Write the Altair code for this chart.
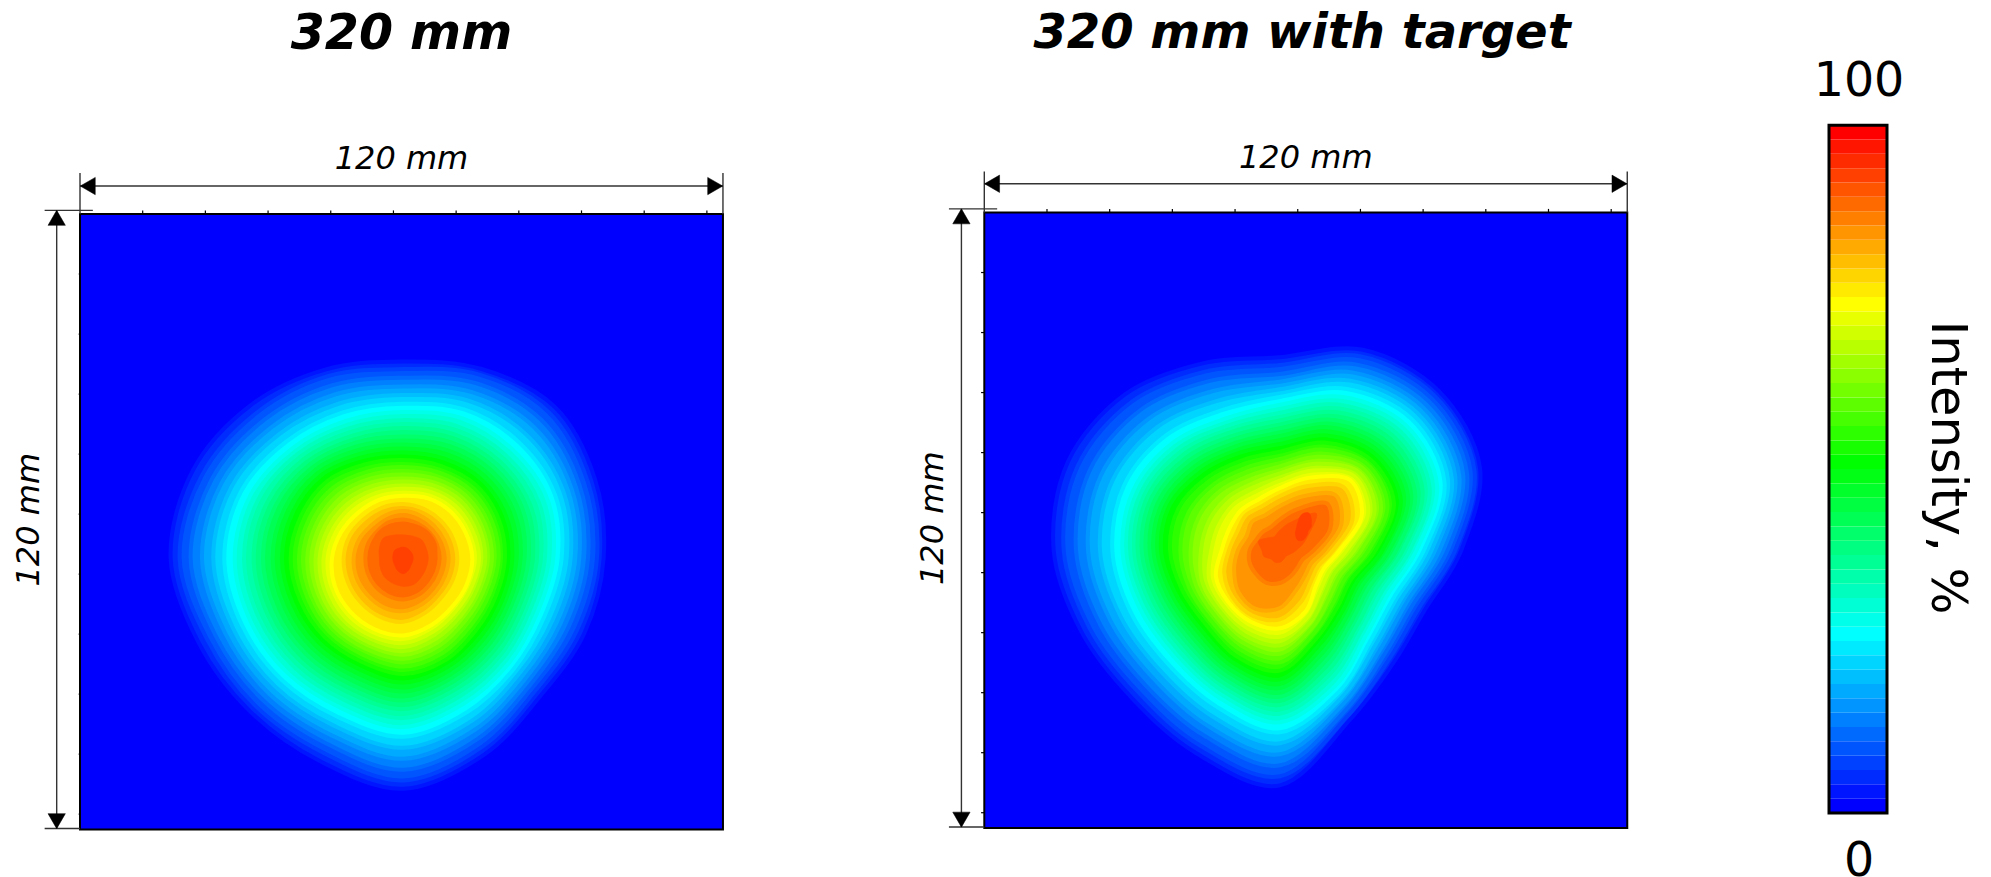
import math
import altair as alt
import pandas as pd

FONT = "DejaVu Sans"
PX_X, PX_Y = 5.358, 5.13          # picture pixels per mm
RX, RY = 3 * PX_X, 3 * PX_Y       # radii below were read on a 3x crop

# ---- "320 mm": contour rings, 16 radii read clockwise from East ----
A01 = [601,588,583,637,692,658,650,664,698,684,648,612,590,614,642,622]
A03 = [581,564,561,614,667,631,627,637,671,653,619,591,567,596,618,599]
A05 = [554,537,538,586,635,602,599,609,638,621,588,561,541,568,586,572]
A07 = [528,511,515,558,602,573,572,580,604,590,557,532,515,539,555,546]
A09 = [502,485,491,530,569,544,544,552,570,558,526,502,489,511,523,520]
A11 = [475,458,469,500,536,515,516,524,537,526,495,473,463,482,491,493]
A13 = [450,434,447,473,507,487,489,496,506,496,468,446,438,455,462,467]
A15 = [425,411,424,448,480,461,463,469,478,469,445,422,414,428,436,440]
A17 = [401,389,401,423,453,435,437,441,449,441,421,398,390,402,410,413]
A19 = [376,366,377,399,427,410,410,414,421,414,397,375,365,376,385,387]
A21 = [352,344,354,376,400,384,384,386,392,386,374,351,341,350,359,360]
A23 = [327,322,330,352,373,358,358,359,364,359,350,327,317,323,333,333]
A25 = [305,300,307,331,348,335,334,334,338,332,325,304,294,299,309,309]
A27 = [286,280,286,308,325,314,313,311,313,306,298,281,273,278,287,288]
A29 = [266,260,264,284,302,294,292,289,288,280,272,258,251,257,265,266]
A31 = [246,240,244,260,279,273,271,267,263,254,245,235,230,236,243,245]
A33 = [227,222,224,238,255,252,249,244,239,228,219,212,208,215,221,223]
A35 = [207,206,207,218,232,230,226,222,214,202,192,189,187,194,199,202]
A37 = [162,162,164,176,191,189,184,181,179,174,166,164,162,160,159,160]
A39 = [136,136,140,149,159,159,154,152,149,144,137,139,141,137,134,134]
A41 = [109,109,112,119,124,122,119,116,114,114,112,116,116,112,110,109]
A42 = [100,100,103,108,110,108,104,100,100,105,110,110,105,108,110,108]
A43 = [75,75,78,85,85,82,80,75,72,78,85,75,70,72,78,75]
A44 = [30,30,32,40,47,42,35,32,32,33,35,33,33,32,30,30]
RINGS_A = {1:A01,3:A03,5:A05,7:A07,9:A09,11:A11,13:A13,15:A15,17:A17,19:A19,21:A21,23:A23,
           25:A25,27:A27,29:A29,31:A31,33:A33,35:A35,37:A37,39:A39,41:A41,42:A42,43:A43,44:A44}
CENTRES_A = {"default": (60.34, 67.08)}

# ---- "320 mm with target" ----
B01 = [544,470,480,550,706,659,628,644,679,689,659,606,578,650,674,649]
B03 = [526,452,463,536,679,633,602,617,649,657,629,580,555,629,655,631]
B05 = [503,431,443,518,646,601,572,584,612,619,593,549,528,602,631,607]
B07 = [479,411,424,499,613,570,541,551,576,582,557,517,505,576,606,582]
B09 = [455,391,404,480,580,538,510,518,540,544,521,485,482,550,582,558]
B11 = [432,370,384,461,547,506,479,485,503,506,485,454,459,523,557,534]
B13 = [410,350,364,439,517,479,452,456,473,475,455,427,436,497,532,510]
B15 = [390,330,344,413,491,456,429,433,450,451,431,405,412,472,507,486]
B17 = [369,310,324,387,465,434,406,410,427,428,407,383,389,447,482,463]
B19 = [349,290,303,360,440,411,383,386,403,404,382,360,365,422,456,439]
B21 = [328,270,283,334,414,389,360,363,380,380,358,338,342,398,431,416]
B23 = [308,250,263,308,388,366,337,340,357,357,334,316,318,372,406,392]
B25 = [287,231,243,286,362,344,315,317,330,329,308,292,295,349,384,370]
B27 = [266,214,225,269,337,321,296,295,299,296,280,267,273,326,367,349]
B29 = [244,196,207,252,311,299,277,273,268,263,252,241,251,303,349,328]
B31 = [223,178,189,235,286,277,258,252,237,230,223,216,230,280,332,307]
B33 = [201,161,171,217,260,254,239,230,206,198,195,190,208,258,314,286]
B35 = [180,143,152,200,235,232,220,208,175,165,167,165,186,235,297,265]
B37 = [160,125,132,167,208,214,201,181,153,140,146,142,162,207,268,235]
B39 = [134,102,107,129,174,191,177,149,126,109,119,114,132,174,234,199]
B41 = [102,74,75,85,99,107,102,99,91,78,75,74,92,132,198,163]
B42 = [90,65,64,68,65,68,68,78,78,68,58,58,76,115,185,150]
B43 = [50,33,26,30,37,40,38,52,55,70,52,44,60,92,155,85]
B44 = [24,20,20,28,40,44,34,24,20,20,22,30,40,44,34,26]
RINGS_B = {1:B01,3:B03,5:B05,7:B07,9:B09,11:B11,13:B13,15:B15,17:B17,19:B19,21:B21,23:B23,
           25:B25,27:B27,29:B29,31:B31,33:B33,35:B35,37:B37,39:B39,41:B41,42:B42,43:B43,44:B44}
CENTRES_B = {"default": (55.19, 65.79), 44: (59.55, 61.24)}

TICK_MM = [11.7, 23.4, 35.1, 46.8, 58.5, 70.2, 81.9, 93.6, 105.3, 117.0]
BANDS = list(range(48))
COLOR_STOPS = [0, 12, 24, 35, 47]
COLOR_HEX = ["#0000ff", "#00ffff", "#00ff00", "#ffff00", "#ff0000"]
cs = alt.Scale(domain=COLOR_STOPS, range=COLOR_HEX, interpolate="rgb")

VIEW_H = 869


def rings_frame(rings, centres):
    rows = []
    for lev, radii in rings.items():
        cx, cy = centres.get(lev, centres["default"])
        for i, r in enumerate(radii):
            a = 2 * math.pi * i / len(radii)
            rows.append({"level": lev, "fill_level": lev + 1 if lev <= 41 else lev, "i": i,
                         "x": cx + r / RX * math.cos(a), "y": cy + r / RY * math.sin(a)})
    return pd.DataFrame(rows)


def panel(title, rings, centres, view_w, left_px, top_px, arrow_y, arrow_x, tick_len, label_y, title_x, title_y, title_size):
    xs = alt.Scale(domain=[-left_px / PX_X, (view_w - left_px) / PX_X], nice=False, zero=False)
    ys = alt.Scale(domain=[(VIEW_H - top_px) / PX_Y, -top_px / PX_Y], nice=False, zero=False)
    X = lambda f="x": alt.X(f"{f}:Q", scale=xs, axis=None)
    Y = lambda f="y": alt.Y(f"{f}:Q", scale=ys, axis=None)
    box = pd.DataFrame({"x": [0], "x2": [120], "y": [0], "y2": [120], "level": [0]})
    bg = alt.Chart(box).mark_rect().encode(x=X(), x2="x2:Q", y=Y(), y2="y2:Q",
                                           fill=alt.Fill("level:Q", scale=cs, legend=None))
    frame_all = rings_frame(rings, centres)

    def ring_layer(df, width):
        return alt.Chart(df).mark_line(
            interpolate="cardinal-closed", tension=0, strokeWidth=width
        ).encode(x=X(), y=Y(), detail="level:Q", order=alt.Order("i:Q"),
                 fill=alt.Fill("fill_level:Q", scale=cs, legend=None),
                 stroke=alt.Stroke("level:Q", scale=cs, legend=None))

    outer = ring_layer(frame_all[frame_all.level <= 41], 4)
    inner = ring_layer(frame_all[frame_all.level > 41], 0.5)
    frame = alt.Chart(box).mark_rect(filled=False, stroke="black", strokeWidth=2).encode(
        x=X(), x2="x2:Q", y=Y(), y2="y2:Q")
    ticks = pd.DataFrame(
        [{"x": t, "x2": t, "y": -0.7, "y2": 0} for t in TICK_MM]
        + [{"x": -tick_len, "x2": 0, "y": t, "y2": t} for t in TICK_MM])
    tk = alt.Chart(ticks).mark_rule(color="black", strokeWidth=1.2).encode(
        x=X(), x2="x2:Q", y=Y(), y2="y2:Q")
    dims = pd.DataFrame([
        {"x": 0, "x2": 120, "y": arrow_y, "y2": arrow_y},
        {"x": 0, "x2": 0, "y": -8, "y2": 0},
        {"x": 120, "x2": 120, "y": -8, "y2": 0},
        {"x": arrow_x, "x2": arrow_x, "y": -0.7, "y2": 119.8},
        {"x": -6.6, "x2": 2.4, "y": -0.7, "y2": -0.7},
        {"x": -6.6, "x2": 0, "y": 119.8, "y2": 119.8},
    ])
    dm = alt.Chart(dims).mark_rule(color="#333333", strokeWidth=1.4).encode(
        x=X(), x2="x2:Q", y=Y(), y2="y2:Q")
    heads = []
    for shape, hx, hy in [("triangle-left", 1.45, arrow_y), ("triangle-right", 118.55, arrow_y),
                          ("triangle-up", arrow_x, 0.75), ("triangle-down", arrow_x, 118.35)]:
        heads.append(alt.Chart(pd.DataFrame({"x": [hx], "y": [hy]})).mark_point(
            shape=shape, filled=True, fill="black", stroke="black", strokeWidth=0.5, size=300, opacity=1
        ).encode(x=X(), y=Y()))
    t_main = alt.Chart(pd.DataFrame({"x": [title_x], "y": [title_y], "t": [title]})).mark_text(
        font=FONT, fontSize=title_size, fontStyle="italic", fontWeight="bold", color="black",
        align="center", baseline="middle"
    ).encode(x=X(), y=Y(), text="t:N")
    t_h = alt.Chart(pd.DataFrame({"x": [60], "y": [label_y], "t": ["120 mm"]})).mark_text(
        font=FONT, fontSize=32, fontStyle="italic", color="black", align="center", baseline="middle"
    ).encode(x=X(), y=Y(), text="t:N")
    t_v = alt.Chart(pd.DataFrame({"x": [-9.5], "y": [59.6], "t": ["120 mm"]})).mark_text(
        font=FONT, fontSize=32, fontStyle="italic", color="black", align="center", baseline="middle", angle=270
    ).encode(x=X(), y=Y(), text="t:N")
    return alt.layer(bg, outer, inner, tk, frame, dm, *heads, t_main, t_h, t_v).properties(width=view_w, height=VIEW_H)


left = panel("320 mm", RINGS_A, CENTRES_A, 880, 72, 206, -5.45, -4.35, 0.25, -10.75, 60, -35.1, 49)
mid = panel("320 mm with target", RINGS_B, CENTRES_B, 880, 96.3, 204.5, -5.6, -4.27, 0.6, -10.7, 59.3, -34.85, 48)

# colour bar
BAR_PX = 58
BAND_PX = 14.33
bar_xs = alt.Scale(domain=[-61 / BAR_PX, (215 - 61) / BAR_PX], nice=False, zero=False)
bar_ys = alt.Scale(domain=[(805 - VIEW_H) / BAND_PX, 805 / BAND_PX], nice=False, zero=False)
BX = alt.X("x:Q", scale=bar_xs, axis=None)
BY = alt.Y("y:Q", scale=bar_ys, axis=None)
bands = pd.DataFrame({"x": [0] * 48, "x2": [1] * 48, "y": BANDS, "y2": [b + 1 for b in BANDS], "level": BANDS})
bar = alt.Chart(bands).mark_rect().encode(x=BX, x2="x2:Q", y=BY, y2="y2:Q",
                                          fill=alt.Fill("level:Q", scale=cs, legend=None))
bar_frame = alt.Chart(pd.DataFrame({"x": [0], "x2": [1], "y": [0], "y2": [48]})).mark_rect(
    filled=False, stroke="black", strokeWidth=3).encode(x=BX, x2="x2:Q", y=BY, y2="y2:Q")
t100 = alt.Chart(pd.DataFrame({"x": [0.517], "y": [51.0], "t": ["100"]})).mark_text(
    font=FONT, fontSize=47.5, color="black", align="center", baseline="middle").encode(x=BX, y=BY, text="t:N")
t0 = alt.Chart(pd.DataFrame({"x": [0.517], "y": [-3.4], "t": ["0"]})).mark_text(
    font=FONT, fontSize=47.5, color="black", align="center", baseline="middle").encode(x=BX, y=BY, text="t:N")
tlab = alt.Chart(pd.DataFrame({"x": [2.03], "y": [24.1], "t": ["Intensity, %"]})).mark_text(
    font=FONT, fontSize=49.5, color="black", align="center", baseline="middle", angle=90).encode(x=BX, y=BY, text="t:N")
right = alt.layer(bar, bar_frame, t100, t0, tlab).properties(width=215, height=VIEW_H)

chart = (
    alt.hconcat(left, mid, right, spacing=0)
    .resolve_scale(x="independent", y="independent", fill="shared", stroke="shared")
    .properties(padding=0, background="white")
    .configure_view(stroke=None)
)
chart.save("out.html", embed_options={"renderer": "svg", "actions": False})
